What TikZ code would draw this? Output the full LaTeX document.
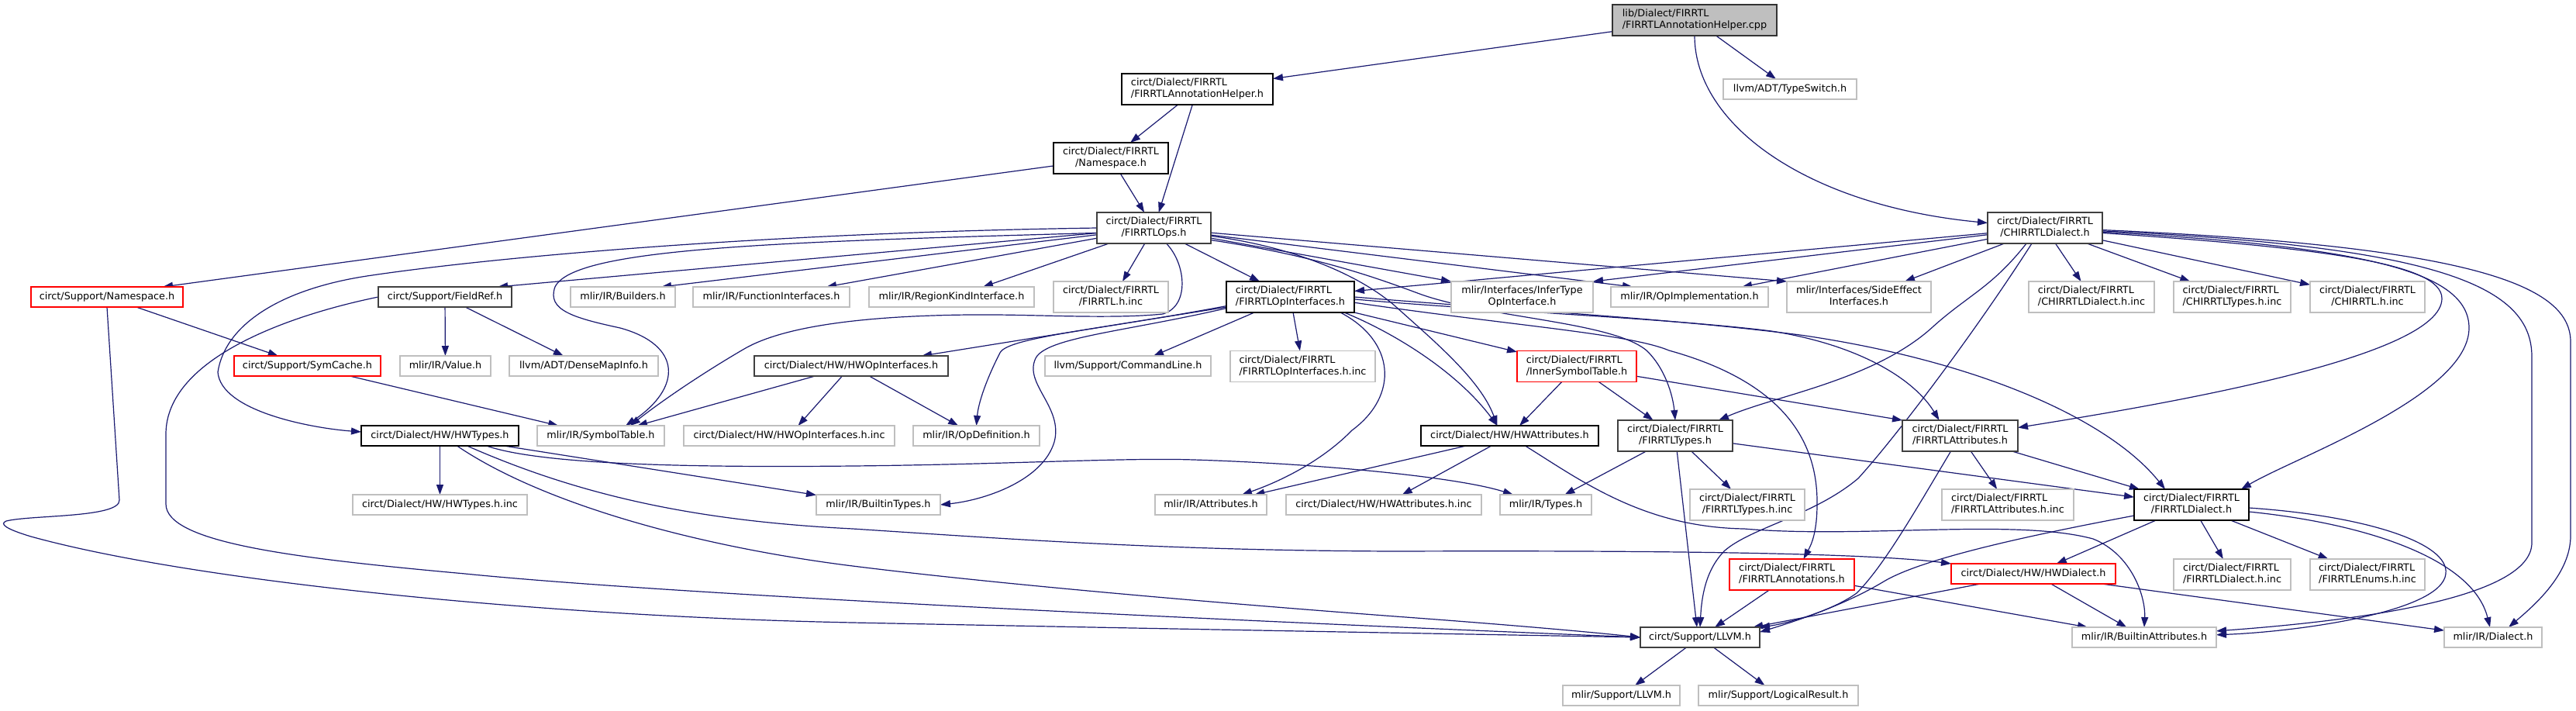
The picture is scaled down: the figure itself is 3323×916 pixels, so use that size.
\documentclass[tikz,border=0pt]{standalone}
\usepackage{fontspec}
\setmainfont{DejaVu Sans}
\usetikzlibrary{arrows.meta,backgrounds}
\definecolor{edgec}{HTML}{191970}
\definecolor{greyc}{HTML}{BFBFBF}
\newcommand\nodefont{\fontsize{12.8pt}{15pt}\selectfont}
\newcommand\mystrut{\vrule width0pt height9.7pt depth3pt\relax}
\newcommand\twoline[2]{%
  \setbox0=\hbox{\mystrut#1}\setbox2=\hbox{\mystrut#2}%
  \ifdim\wd0>\wd2 \dimen0=\wd0 \else \dimen0=\wd2 \fi
  \vbox{\baselineskip=15pt \lineskiplimit=-100pt
    \hbox to\dimen0{\box0\hss}\hbox to\dimen0{\hss\box2\hss}}}
\tikzset{
  nb/.style={rectangle, inner sep=0pt, outer sep=0pt, font=\nodefont, fill=white},
  sz/.style 2 args={minimum width=#1pt, minimum height=#2pt},
  gbox/.style={nb, draw=greyc, line width=1.2pt},
  rbox/.style={nb, draw=red, line width=1.2pt},
  abox/.style={nb, draw=black!75, line width=1.6pt},
  bbox/.style={nb, draw=black, line width=1.2pt},
  rootbox/.style={nb, draw=black!80, fill=greyc, line width=1.3pt},
  dep/.style={draw=edgec, line width=1.2pt, -{Triangle[length=13pt,width=9pt]}},
}
\begin{document}
\begin{tikzpicture}[x=1pt,y=-1pt]
\useasboundingbox (0,0) rectangle (3323,916);
% ---------- nodes ----------
\node[rootbox, sz={212}{40}] (root) at (2186,26) {\twoline{lib/Dialect/FIRRTL}{/FIRRTLAnnotationHelper.cpp}};
\node[gbox, sz={172}{26}] (typeswitch) at (2309,115) {\mystrut llvm/ADT/TypeSwitch.h};
\node[bbox, sz={195}{40}] (annh) at (1544.5,115) {\twoline{circt/Dialect/FIRRTL}{/FIRRTLAnnotationHelper.h}};
\node[bbox, sz={148}{40}] (fns) at (1433,204) {\twoline{circt/Dialect/FIRRTL}{/Namespace.h}};
\node[abox, sz={147}{40}] (fops) at (1488.5,294) {\twoline{circt/Dialect/FIRRTL}{/FIRRTLOps.h}};
\node[abox, sz={148}{40}] (chirrtl) at (2638,294) {\twoline{circt/Dialect/FIRRTL}{/CHIRRTLDialect.h}};
\node[rbox, sz={196}{26}] (sns) at (138,383) {\mystrut circt/Support/Namespace.h};
\node[abox, sz={172}{26}] (fieldref) at (574,383) {\mystrut circt/Support/FieldRef.h};
\node[gbox, sz={135}{26}] (builders) at (803.5,383) {\mystrut mlir/IR/Builders.h};
\node[gbox, sz={202}{26}] (funcif) at (995,383) {\mystrut mlir/IR/FunctionInterfaces.h};
\node[gbox, sz={213}{26}] (regionkind) at (1227.5,383) {\mystrut mlir/IR/RegionKindInterface.h};
\node[gbox, sz={148}{40}] (firrtlinc) at (1433,383) {\twoline{circt/Dialect/FIRRTL}{/FIRRTL.h.inc}};
\node[bbox, sz={165}{40}] (fopif) at (1664.5,383) {\twoline{circt/Dialect/FIRRTL}{/FIRRTLOpInterfaces.h}};
\node[gbox, sz={183}{40}] (infertype) at (1963.5,383) {\twoline{mlir/Interfaces/InferType}{OpInterface.h}};
\node[gbox, sz={203}{26}] (opimpl) at (2179.5,383) {\mystrut mlir/IR/OpImplementation.h};
\node[gbox, sz={186}{40}] (sideeffect) at (2398,383) {\twoline{mlir/Interfaces/SideEffect}{Interfaces.h}};
\node[gbox, sz={162}{40}] (chdinc) at (2698,383) {\twoline{circt/Dialect/FIRRTL}{/CHIRRTLDialect.h.inc}};
\node[gbox, sz={151}{40}] (chtinc) at (2879.5,383) {\twoline{circt/Dialect/FIRRTL}{/CHIRRTLTypes.h.inc}};
\node[gbox, sz={148}{40}] (chinc) at (3054,383) {\twoline{circt/Dialect/FIRRTL}{/CHIRRTL.h.inc}};
\node[rbox, sz={189}{26}] (symcache) at (396.5,472) {\mystrut circt/Support/SymCache.h};
\node[gbox, sz={117}{26}] (value) at (574.5,472) {\mystrut mlir/IR/Value.h};
\node[gbox, sz={192}{26}] (densemap) at (753,472) {\mystrut llvm/ADT/DenseMapInfo.h};
\node[abox, sz={250}{26}] (hwopif) at (1098,472) {\mystrut circt/Dialect/HW/HWOpInterfaces.h};
\node[gbox, sz={214}{26}] (cmdline) at (1455,472) {\mystrut llvm/Support/CommandLine.h};
\node[gbox, sz={187}{40}] (fopifinc) at (1680.5,472.5) {\twoline{circt/Dialect/FIRRTL}{/FIRRTLOpInterfaces.h.inc}};
\node[rbox, sz={154}{40}] (innersym) at (2034,472.5) {\twoline{circt/Dialect/FIRRTL}{/InnerSymbolTable.h}};
\node[bbox, sz={203}{26}] (hwtypes) at (567.5,562) {\mystrut circt/Dialect/HW/HWTypes.h};
\node[gbox, sz={164}{26}] (symtab) at (775,562) {\mystrut mlir/IR/SymbolTable.h};
\node[gbox, sz={272}{26}] (hwopifinc) at (1018,562) {\mystrut circt/Dialect/HW/HWOpInterfaces.h.inc};
\node[gbox, sz={163}{26}] (opdef) at (1259.5,562) {\mystrut mlir/IR/OpDefinition.h};
\node[bbox, sz={229}{26}] (hwattr) at (1947.5,562) {\mystrut circt/Dialect/HW/HWAttributes.h};
\node[abox, sz={148}{40}] (ftypes) at (2161,562) {\twoline{circt/Dialect/FIRRTL}{/FIRRTLTypes.h}};
\node[abox, sz={149}{40}] (fattrs) at (2528.5,562) {\twoline{circt/Dialect/FIRRTL}{/FIRRTLAttributes.h}};
\node[gbox, sz={225}{26}] (hwtypesinc) at (567.5,651) {\mystrut circt/Dialect/HW/HWTypes.h.inc};
\node[gbox, sz={160}{26}] (builtintypes) at (1133,651) {\mystrut mlir/IR/BuiltinTypes.h};
\node[gbox, sz={144}{26}] (attributes) at (1562,651) {\mystrut mlir/IR/Attributes.h};
\node[gbox, sz={252}{26}] (hwattrinc) at (1785,651) {\mystrut circt/Dialect/HW/HWAttributes.h.inc};
\node[gbox, sz={118}{26}] (types) at (1994,651) {\mystrut mlir/IR/Types.h};
\node[gbox, sz={148}{40}] (ftypesinc) at (2254,651) {\twoline{circt/Dialect/FIRRTL}{/FIRRTLTypes.h.inc}};
\node[gbox, sz={170}{40}] (fattrsinc) at (2590,651) {\twoline{circt/Dialect/FIRRTL}{/FIRRTLAttributes.h.inc}};
\node[bbox, sz={148}{40}] (fdialect) at (2827,651) {\twoline{circt/Dialect/FIRRTL}{/FIRRTLDialect.h}};
\node[rbox, sz={161}{40}] (fannot) at (2311.5,741) {\twoline{circt/Dialect/FIRRTL}{/FIRRTLAnnotations.h}};
\node[rbox, sz={212}{26}] (hwdialect) at (2623,740) {\mystrut circt/Dialect/HW/HWDialect.h};
\node[gbox, sz={151}{40}] (fdinc) at (2879.5,741) {\twoline{circt/Dialect/FIRRTL}{/FIRRTLDialect.h.inc}};
\node[gbox, sz={148}{40}] (fenumsinc) at (3054,741) {\twoline{circt/Dialect/FIRRTL}{/FIRRTLEnums.h.inc}};
\node[abox, sz={154}{26}] (sllvm) at (2193,822) {\mystrut circt/Support/LLVM.h};
\node[gbox, sz={186}{26}] (battrs) at (2766,822) {\mystrut mlir/IR/BuiltinAttributes.h};
\node[gbox, sz={126}{26}] (dialect) at (3216,822) {\mystrut mlir/IR/Dialect.h};
\node[gbox, sz={151}{26}] (mllvm) at (2091.5,897) {\mystrut mlir/Support/LLVM.h};
\node[gbox, sz={206}{26}] (logres) at (2294,897) {\mystrut mlir/Support/LogicalResult.h};
% ---------- edges ----------
\begin{scope}[on background layer]
\fill[white] (0,0) rectangle (3323,916);
% root
\draw[dep] (root) -- (annh);
\draw[dep] (root) -- (typeswitch);
\draw[dep] (root.south) .. controls (2186,160) and (2330,265) .. (chirrtl.175);
% annotation helper / namespace
\draw[dep] (annh) -- (fns);
\draw[dep] (annh) -- (fops);
\draw[dep] (fns) -- (fops);
\draw[dep] (fns) -- ([xshift=-26pt]sns.north east);
% support namespace
\draw[dep] (sns) -- (symcache);
\draw[dep] (sns.south) -- (154,645) .. controls (155,668) and (40,664) .. (8,672) .. controls (-2,676) and (10,683) .. (40,692) .. controls (250,750) and (700,795) .. (1100,803) .. controls (1500,811) and (1900,818) .. (sllvm.west);
% fieldref
\draw[dep] (fieldref.west) .. controls (380,405) and (214,460) .. (214,560) -- (214,650) .. controls (214,700) and (380,720) .. (600,740) .. controls (900,770) and (1700,805) .. (sllvm.west);
\draw[dep] (fieldref) -- (value);
\draw[dep] (fieldref) -- (densemap);
\draw[dep] (symcache) -- (symtab);
% FIRRTLOps
\draw[dep] (fops) -- ([xshift=-18pt]fieldref.north east);
\draw[dep] (fops) -- ([xshift=-18pt]builders.north east);
\draw[dep] (fops) -- ([xshift=-30pt]funcif.north east);
\draw[dep] (fops) -- ([xshift=-66pt]regionkind.north east);
\draw[dep] (fops) -- ([xshift=-59pt]firrtlinc.north east);
\draw[dep] (fops) -- (fopif);
\draw[dep] (fops) -- (infertype.north west);
\draw[dep] (fops) -- ([xshift=28pt]opimpl.north west);
\draw[dep] (fops) -- (sideeffect.north west);
\draw[dep] (fops.west) .. controls (1000,300) and (650,330) .. (480,355) .. controls (360,372) and (290,420) .. (281,480) .. controls (285,530) and (400,552) .. ([yshift=5pt]hwtypes.west);
\draw[dep] (fops.185) .. controls (1000,312) and (740,320) .. (716,370) .. controls (705,400) and (740,410) .. (800,423) .. controls (880,445) and (880,500) .. ([xshift=32pt]symtab.north);
\draw[dep] ([xshift=16pt]fops.south) .. controls (1530,340) and (1535,395) .. (1500,405) .. controls (1430,412) and (1330,405) .. (1250,406) .. controls (1150,407) and (1020,415) .. (960,450) .. controls (900,485) and (850,520) .. ([xshift=38pt]symtab.north);
\draw[dep] (fops.-8) .. controls (1680,320) and (1760,360) .. (1800,395) .. controls (1850,440) and (1910,490) .. ([xshift=-16pt]hwattr.north);
\draw[dep] (fops.-12) .. controls (1700,330) and (1780,360) .. (1834,380) .. controls (1920,410) and (2080,415) .. (2124,452) .. controls (2148,475) and (2158,510) .. (ftypes.north);
% FIRRTLOpInterfaces
\draw[dep] (fopif) -- ([xshift=-34pt]hwopif.north east);
\draw[dep] (fopif) -- ([xshift=33pt]cmdline.north);
\draw[dep] (fopif) -- (fopifinc);
\draw[dep] (fopif) -- (innersym);
\draw[dep] (fopif.188) .. controls (1420,425) and (1300,435) .. (1290,455) .. controls (1272,490) and (1262,520) .. (opdef.north);
\draw[dep] (fopif.190) .. controls (1450,428) and (1350,435) .. (1336,462) .. controls (1320,495) and (1372,525) .. (1360,570) .. controls (1345,620) and (1270,645) .. (builtintypes.east);
\draw[dep] ([xshift=-13pt]fopif.south east) .. controls (1800,430) and (1880,480) .. ([xshift=-16pt]hwattr.north);
\draw[dep] ([xshift=-18pt]fopif.south east) .. controls (1800,440) and (1805,510) .. (1744,555) .. controls (1700,600) and (1640,625) .. ([xshift=40pt]attributes.north);
\draw[dep] (fopif.-5) .. controls (1950,420) and (2100,430) .. (2153,452) .. controls (2290,490) and (2345,560) .. (2344,650) .. controls (2344,690) and (2335,705) .. ([xshift=15pt]fannot.north);
\draw[dep] (fopif.-2) .. controls (1900,400) and (2150,410) .. (2285,427) .. controls (2400,445) and (2470,490) .. ([xshift=-27pt]fattrs.north);
\draw[dep] (fopif.0) .. controls (1950,400) and (2150,410) .. (2322,432) .. controls (2550,465) and (2720,540) .. ([xshift=-34pt]fdialect.north);
% HWOpInterfaces
\draw[dep] (hwopif) -- ([xshift=47pt]symtab.north);
\draw[dep] (hwopif) -- (hwopifinc);
\draw[dep] (hwopif) -- (opdef);
% InnerSymbolTable
\draw[dep] (innersym) -- (hwattr);
\draw[dep] (innersym) -- (ftypes);
\draw[dep] (innersym) -- (fattrs.north west);
% CHIRRTLDialect
\draw[dep] (chirrtl) -- (fopif);
\draw[dep] (chirrtl) -- (infertype.north east);
\draw[dep] (chirrtl) -- ([xshift=-34pt]opimpl.north east);
\draw[dep] (chirrtl) -- ([xshift=-34pt]sideeffect.north east);
\draw[dep] (chirrtl) -- (chdinc);
\draw[dep] (chirrtl) -- (chtinc);
\draw[dep] (chirrtl) -- (chinc);
\draw[dep] ([xshift=-24pt]chirrtl.south) .. controls (2570,370) and (2540,380) .. (2495,420) .. controls (2420,490) and (2290,510) .. ([xshift=56pt]ftypes.north);
\draw[dep] ([xshift=-17pt]chirrtl.south) .. controls (2540,440) and (2440,570) .. (2397,617) .. controls (2340,665) and (2260,680) .. (2225,710) .. controls (2200,735) and (2195,770) .. (sllvm.north);
\draw[dep] (chirrtl.-5) .. controls (3000,320) and (3150,340) .. (3150,385) .. controls (3150,460) and (2800,520) .. (fattrs.8);
\draw[dep] (chirrtl.-4) .. controls (3050,318) and (3185,350) .. (3185,423) .. controls (3185,510) and (2960,590) .. ([xshift=64pt]fdialect.north);
\draw[dep] (chirrtl.-3) .. controls (3150,318) and (3266,370) .. (3266,460) -- (3266,700) .. controls (3266,770) and (3050,800) .. (battrs.5);
\draw[dep] (chirrtl.-2) .. controls (3200,318) and (3316,370) .. (3316,441) -- (3316,691) .. controls (3316,740) and (3270,780) .. ([xshift=20pt]dialect.north);
% FIRRTLTypes
\draw[dep] (ftypes) -- (types);
\draw[dep] (ftypes) -- (ftypesinc);
\draw[dep] (ftypes) -- ([xshift=-4pt]sllvm.north);
\draw[dep] (ftypes) -- (fdialect);
% FIRRTLAttributes
\draw[dep] (fattrs) -- (fattrsinc);
\draw[dep] (fattrs) -- (fdialect);
\draw[dep] ([xshift=-12pt]fattrs.south) .. controls (2470,660) and (2430,730) .. (2395,765) .. controls (2360,790) and (2300,805) .. (sllvm.north east);
% FIRRTLDialect
\draw[dep] (fdialect) -- (fdinc);
\draw[dep] (fdialect) -- (fenumsinc);
\draw[dep] (fdialect) -- (hwdialect);
\draw[dep] ([yshift=-14pt]fdialect.west) .. controls (2620,690) and (2480,720) .. (2430,750) .. controls (2380,780) and (2320,800) .. (sllvm.5);
\draw[dep] ([yshift=-4pt]fdialect.east) .. controls (3050,665) and (3160,700) .. (3155,740) .. controls (3150,790) and (2960,815) .. (battrs.2);
\draw[dep] ([yshift=-9pt]fdialect.east) .. controls (3050,675) and (3190,720) .. ([xshift=-4pt]dialect.north);
% FIRRTLAnnotations
\draw[dep] (fannot) -- (sllvm);
\draw[dep] (fannot) -- (battrs);
% HWDialect
\draw[dep] (hwdialect) -- (sllvm);
\draw[dep] (hwdialect) -- (battrs);
\draw[dep] ([xshift=-18pt]hwdialect.south east) -- (dialect.172);
% HWTypes
\draw[dep] (hwtypes) -- (hwtypesinc);
\draw[dep] (hwtypes) -- (builtintypes);
\draw[dep] ([xshift=60pt]hwtypes.south) .. controls (700,600) and (900,603) .. (1100,601) .. controls (1300,599) and (1450,590) .. (1540,593) .. controls (1700,598) and (1880,615) .. ([xshift=-42pt]types.north);
\draw[dep] ([xshift=35pt]hwtypes.south) .. controls (750,640) and (900,672) .. (1100,682) .. controls (1300,695) and (1500,710) .. (1800,711) .. controls (2100,710) and (2400,712) .. (hwdialect.north west);
\draw[dep] ([xshift=22pt]hwtypes.south) .. controls (700,650) and (900,705) .. (1100,730) .. controls (1300,755) and (1600,780) .. (1800,795) .. controls (1950,806) and (2050,815) .. (sllvm.west);
% HWAttributes
\draw[dep] (hwattr) -- (attributes);
\draw[dep] (hwattr) -- (hwattrinc);
\draw[dep] ([xshift=20pt]hwattr.south) .. controls (2040,620) and (2120,680) .. (2250,682) .. controls (2400,695) and (2600,668) .. (2700,695) .. controls (2750,715) and (2768,770) .. (battrs.north);
% Support/LLVM
\draw[dep] (sllvm) -- (mllvm);
\draw[dep] (sllvm) -- (logres);
\end{scope}
\end{tikzpicture}
\end{document}
